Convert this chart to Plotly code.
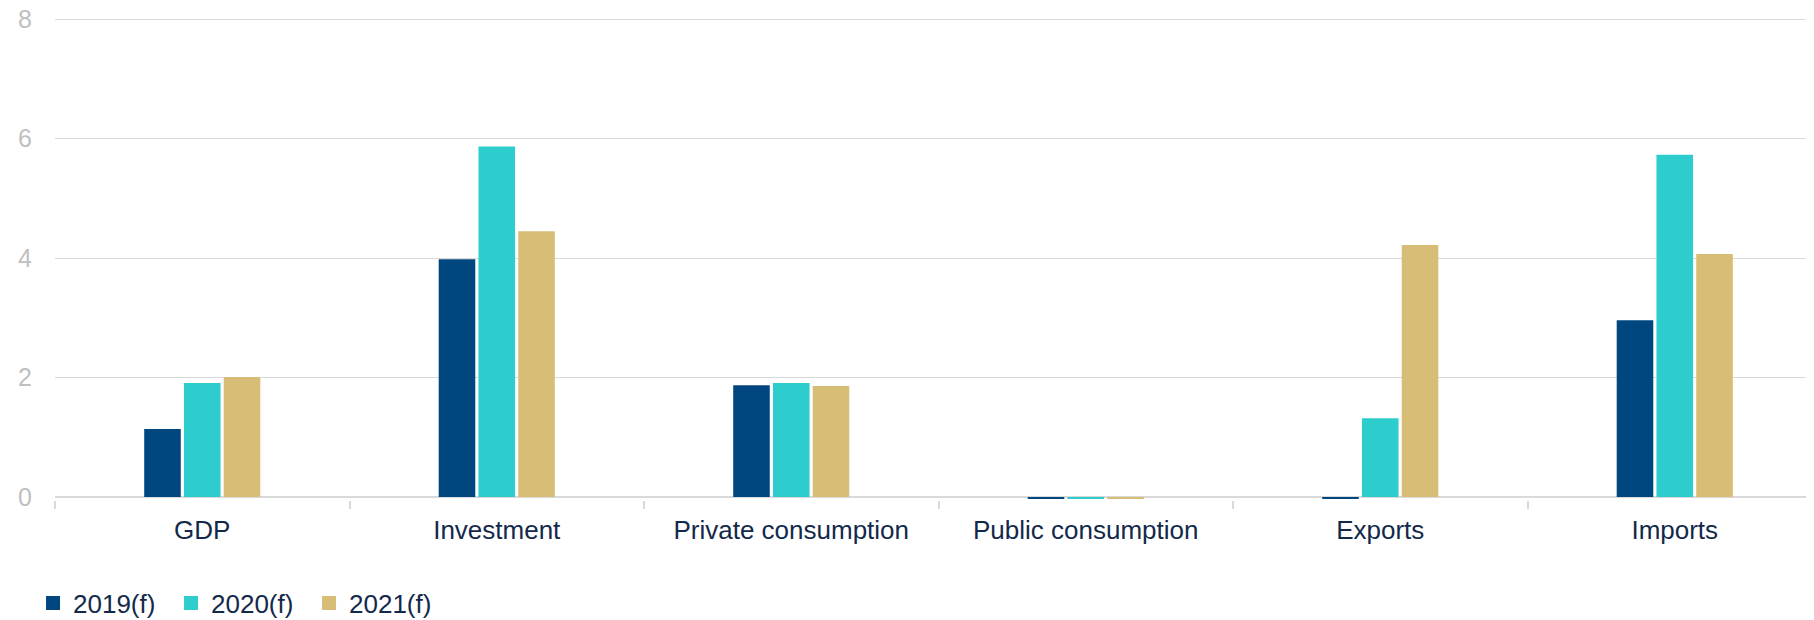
import plotly.graph_objects as go

categories = ["GDP", "Investment", "Private consumption", "Public consumption", "Exports", "Imports"]
series_names = ["2019(f)", "2020(f)", "2021(f)"]
values_2019 = [1.14, 3.98, 1.87, -0.03, -0.03, 2.96]
values_2020 = [1.91, 5.87, 1.91, -0.03, 1.32, 5.73]
values_2021 = [2.01, 4.45, 1.86, -0.03, 4.22, 4.07]
colors = ["#00467F", "#2ECDCD", "#D8BD77"]
y_ticks = [0, 2, 4, 6, 8]

FONT = "Liberation Sans, Arial, sans-serif"
TEXT = "#13294B"

fig = go.Figure()
for name, vals, col in zip(series_names, [values_2019, values_2020, values_2021], colors):
    fig.add_trace(go.Bar(
        x=categories, y=vals, name=name, legendgroup=name, showlegend=False,
        marker=dict(color=col, line=dict(width=0)),
    ))
# legend swatches (square markers)
for name, col in zip(series_names, colors):
    fig.add_trace(go.Scatter(
        x=[None], y=[None], mode="markers", name=name, legendgroup=name,
        marker=dict(symbol="square", size=14, color=col),
    ))

fig.update_layout(
    width=1814, height=620,
    margin=dict(l=47, r=0, t=10, b=128, autoexpand=False),
    paper_bgcolor="white", plot_bgcolor="white",
    barmode="group", bargap=0.595, bargroupgap=0.08,
    font=dict(family=FONT, size=26, color=TEXT),
    legend=dict(
        orientation="h", xref="container", yref="container",
        x=0.0138, xanchor="left", y=0.0403, yanchor="middle",
        font=dict(family=FONT, size=26, color=TEXT),
        itemwidth=30, entrywidth=93, traceorder="normal",
        bgcolor="rgba(0,0,0,0)",
    ),
    showlegend=True,
)
fig.update_xaxes(
    range=[-0.5, 5.5], showgrid=False, showline=False,
    ticks="outside", tickson="boundaries", ticklen=8, tickcolor="#D9D9D9", tickwidth=1.5,
    tickfont=dict(family=FONT, size=26, color=TEXT),
    ticklabelstandoff=12,
)
fig.update_yaxes(
    range=[-0.05, 8.02], tickvals=y_ticks, ticktext=[str(v) for v in y_ticks],
    showgrid=True, gridcolor="#D9D9D9", gridwidth=1.3,
    zeroline=True, zerolinecolor="#D9D9D9", zerolinewidth=1.5,
    tickfont=dict(family=FONT, size=25, color="#BFBFBF"),
    ticklabelstandoff=22, ticklabeloverflow="allow",
)

fig.write_html("out.html")
